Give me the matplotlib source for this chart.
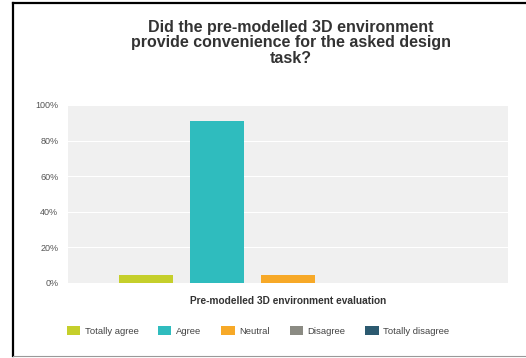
import matplotlib
matplotlib.use("Agg")
import matplotlib.pyplot as plt
from matplotlib.lines import Line2D
from matplotlib.patches import Patch
from matplotlib.ticker import FuncFormatter

# Survey responses (share of respondents, %)
categories = ["Totally agree", "Agree", "Neutral", "Disagree", "Totally disagree"]
shares = [4.55, 90.91, 4.55, 0.0, 0.0]
colors = ["#c5cf2b", "#2fbcbe", "#f7a928", "#8b8b83", "#2c5a70"]
y_ticks = [0, 20, 40, 60, 80, 100]

title = "Did the pre-modelled 3D environment\nprovide convenience for the asked design\ntask?"
x_label = "Pre-modelled 3D environment evaluation"

W, H = 526, 358
fig = plt.figure(figsize=(W / 100, H / 100), dpi=100)
fig.patch.set_facecolor("white")

ax = fig.add_axes([68 / W, 1 - 283 / H, (508 - 68) / W, (283 - 105) / H])
ax.set_facecolor("#f0f0f0")

xs = list(range(len(categories)))
ax.bar(xs, shares, width=0.75, color=colors, zorder=3)

ax.set_xlim(-1.1, len(categories) - 1 + 1.1)
ax.set_ylim(0, 100)
ax.set_yticks(y_ticks)
ax.yaxis.set_major_formatter(FuncFormatter(lambda v, _: f"{v:.0f}%"))
ax.set_xticks([])
ax.grid(axis="y", color="white", linewidth=0.8, zorder=1)
for s in ax.spines.values():
    s.set_visible(False)
ax.tick_params(axis="y", length=0, labelsize=6.5, labelcolor="#555555", pad=7)
for lbl in ax.get_yticklabels():
    lbl.set_family("Liberation Sans")

ax.set_xlabel(x_label, fontsize=7.3, fontweight="bold", color="#333333",
              family="Liberation Sans", labelpad=9)

fig.text(291 / W, 1 - 43 / H, title, ha="center", va="center",
         fontsize=11.5, fontweight="bold", color="#333333",
         family="Liberation Sans", linespacing=1.05)

handles = [Patch(facecolor=c, edgecolor="none") for c in colors]
leg = fig.legend(handles, categories, loc="center", ncol=5,
                 bbox_to_anchor=(258 / W, 1 - 331 / H), frameon=False,
                 prop={"family": "Liberation Sans", "size": 6.8},
                 handlelength=1.4, handleheight=1.0, columnspacing=2.1,
                 handletextpad=0.5)
for t in leg.get_texts():
    t.set_color("#444444")

# frame lines
fig.add_artist(Line2D([13 / W, 13 / W], [1 - 3 / H, 1 - 356 / H],
                      transform=fig.transFigure, color="black", linewidth=1.6))
fig.add_artist(Line2D([13 / W, 1.0], [1 - 3 / H, 1 - 3 / H],
                      transform=fig.transFigure, color="black", linewidth=1.6))
fig.add_artist(Line2D([13 / W, 1.0], [1 - 356 / H, 1 - 356 / H],
                      transform=fig.transFigure, color="#999999", linewidth=0.8))

fig.savefig("out.png", dpi=100)
